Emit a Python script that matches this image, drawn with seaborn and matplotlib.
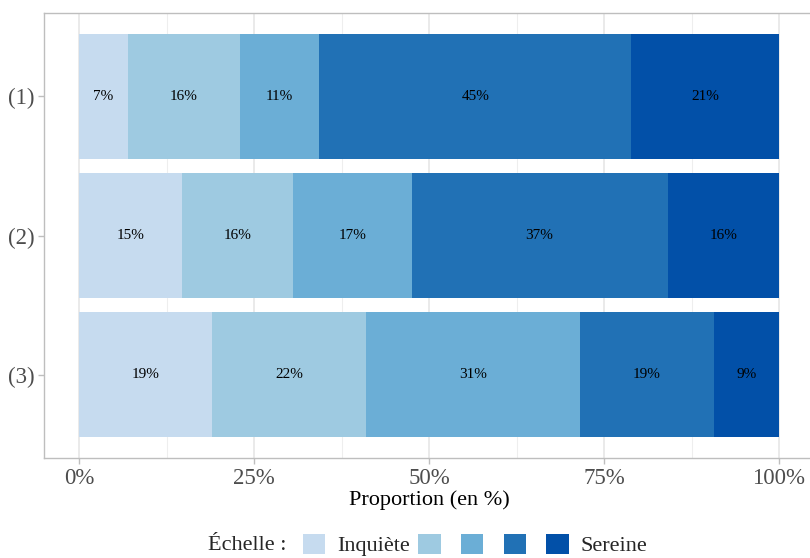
import matplotlib
matplotlib.use("Agg")
import matplotlib.pyplot as plt
from matplotlib.patches import Patch
from matplotlib.ticker import MultipleLocator, FuncFormatter
import pandas as pd
import seaborn as sns

groups = ["(1)", "(2)", "(3)"]
levels = ["Inquiète", "2", "3", "4", "Sereine"]
level_labels = ["Inquiète", "", "", "", "Sereine"]
colors = ["#C6DBEF", "#9ECAE1", "#6BAED6", "#2171B5", "#0250A8"]

pct_1 = [7.0, 16.0, 11.3, 44.6, 21.1]
pct_2 = [14.7, 15.9, 16.9, 36.6, 15.9]
pct_3 = [19.0, 22.0, 30.6, 19.1, 9.3]

df = pd.DataFrame([pct_1, pct_2, pct_3], index=groups, columns=levels)
cum = df.cumsum(axis=1)

sns.set_style("white")
plt.rcParams["font.family"] = ["Liberation Serif", "DejaVu Serif"]

fig = plt.figure(figsize=(8.1, 5.58), dpi=100)
ax = fig.add_axes([44 / 810, 1 - 458 / 558, 770 / 810, 445 / 558])

# stacked bars: draw cumulative totals from the last level back to the first
for lvl, col in reversed(list(zip(levels, colors))):
    d = pd.DataFrame({"grp": groups, "val": cum[lvl].values})
    sns.barplot(data=d, x="val", y="grp", color=col, width=0.9, saturation=1,
                errorbar=None, linewidth=0, edgecolor="none", ax=ax, zorder=2)

for i, g in enumerate(groups):
    for lvl in levels:
        mid = cum.loc[g, lvl] - df.loc[g, lvl] / 2
        ax.text(mid, i, f"{df.loc[g, lvl]:.0f}%", ha="center", va="center",
                fontsize=11, color="black", zorder=3)

ax.set_xlim(-5, 105)
ax.set_ylim(2.6, -0.6)
ax.xaxis.set_major_locator(MultipleLocator(25))
ax.xaxis.set_minor_locator(MultipleLocator(12.5))
ax.xaxis.set_major_formatter(FuncFormatter(lambda v, p: f"{v:.0f}%"))
ax.set_axisbelow(True)
ax.grid(which="major", axis="x", color="#E6E6E6", lw=1.2)
ax.grid(which="minor", axis="x", color="#EEEEEE", lw=0.8)
ax.grid(which="major", axis="y", visible=False)

for s in ax.spines.values():
    s.set_color("#BEBEBE")
    s.set_linewidth(1.0)

ax.tick_params(axis="both", which="major", color="#BEBEBE", length=4, width=1,
               labelcolor="#4D4D4D", labelsize=16.5, pad=3, left=True, bottom=True)
ax.tick_params(axis="x", which="minor", length=0)

ax.set_xlabel("Proportion (en %)", fontsize=16, color="black", labelpad=1)
ax.set_ylabel("")

handles = [Patch(facecolor=c, edgecolor="none") for c in colors]
fig.text(208 / 810, 1 - 546 / 558, "Échelle :", fontsize=16, ha="left", va="center")
fig.legend(handles, level_labels, loc="center left",
           bbox_to_anchor=(303 / 810, 1 - 545 / 558), ncol=5, frameon=False,
           fontsize=16, handlelength=1.0, handleheight=1.0, handletextpad=0.52,
           columnspacing=0.40, borderpad=0, borderaxespad=0)

fig.savefig("out.png", dpi=100)
